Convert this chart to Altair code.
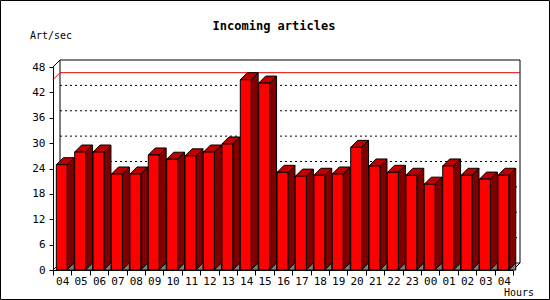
import altair as alt
import pandas as pd

hours = ["04", "05", "06", "07", "08", "09", "10", "11", "12", "13", "14", "15",
         "16", "17", "18", "19", "20", "21", "22", "23", "00", "01", "02", "03", "04"]
values = [24.9, 27.9, 27.9, 22.7, 22.7, 27.2, 26.2, 27.0, 27.9, 29.8, 45.0, 44.2,
          23.1, 22.2, 22.4, 22.7, 29.0, 24.6, 23.1, 22.4, 20.3, 24.6, 22.4, 21.5, 22.4]
y_ticks = [0, 6, 12, 18, 24, 30, 36, 42, 48]
title_text = "Incoming articles"
y_title = "Art/sec"
x_title = "Hours"

# layout / style
W, H = 460, 203
N = len(hours)
YMAX = 48
DEPTH = 7
DX = DEPTH * N / W
DY = DEPTH * YMAX / H
L_OFF, R_OFF = 0.18, 0.77
FONT = "DejaVu Sans Mono"

xs = alt.Scale(domain=[0, N], nice=False, zero=False)
ys = alt.Scale(domain=[0, YMAX], nice=False, zero=False)

label_arr = "[" + ",".join("'%s'" % h for h in hours) + ",'']"
x_axis = alt.Axis(values=list(range(N + 1)), labelExpr=label_arr + "[datum.value]",
                  labelOffset=W / N / 2, tickSize=5, labelPadding=0, grid=False,
                  title=None, domainColor="black", tickColor="black", labelColor="black",
                  labelFont=FONT, labelFontSize=11, labelOverlap=False, labelFlush=False)
y_axis = alt.Axis(values=y_ticks, tickSize=4, labelPadding=4, grid=False, title=None,
                  domainColor="black", tickColor="black", labelColor="black",
                  labelFont=FONT, labelFontSize=11, labelFlush=False)


def X(f):
    return alt.X(f, type="quantitative", scale=xs, axis=x_axis)


def Y(f):
    return alt.Y(f, type="quantitative", scale=ys, axis=y_axis)


# back wall
wall = alt.Chart(pd.DataFrame({"x0": [DX], "x1": [N + DX], "y0": [DY], "y1": [YMAX + DY]})).mark_rect(
    fill="white", stroke="black", strokeWidth=1
).encode(x=X("x0"), x2="x1", y=Y("y0"), y2="y1")

# gridlines on back wall
grid_df = pd.DataFrame({"y": [t + DY for t in y_ticks[1:-1]], "x0": DX, "x1": N + DX})
grid = alt.Chart(grid_df).mark_rule(color="black", strokeDash=[2, 3], strokeWidth=1).encode(
    x=X("x0"), x2="x1", y=Y("y"))

# frame diagonals
diag_df = pd.DataFrame({"x0": [0, N, 0], "y0": [YMAX, 0, 0],
                        "x1": [DX, N + DX, DX], "y1": [YMAX + DY, DY, DY]})
diag = alt.Chart(diag_df).mark_rule(color="black", strokeWidth=1).encode(
    x=X("x0"), y=Y("y0"), x2="x1", y2="y1")

# max line
vmax = max(values)
max_df = pd.DataFrame({"x0": [0, DX], "y0": [vmax, vmax + DY],
                       "x1": [DX, N + DX], "y1": [vmax + DY, vmax + DY]})
maxline = alt.Chart(max_df).mark_rule(color="#e00000", strokeWidth=1).encode(
    x=X("x0"), y=Y("y0"), x2="x1", y2="y1")

# bars
rows_front, rows_top, rows_side, rows_shadow = [], [], [], []
for i, v in enumerate(values):
    l, r = i + L_OFF, i + R_OFF
    rows_front.append({"id": i, "l": l, "r": r, "v": v})
    rows_top.append({"id": i, "y": v, "xa": l, "xb": r})
    rows_top.append({"id": i, "y": v + DY, "xa": l + DX, "xb": r + DX})
    rows_side.append({"id": i, "x": r, "ya": v, "yb": 0})
    rows_side.append({"id": i, "x": r + DX, "ya": v + DY, "yb": DY})
    rows_shadow.append({"id": i, "x": r, "ya": 0, "yb": 0})
    rows_shadow.append({"id": i, "x": r + DX, "ya": DY, "yb": 0})

side = alt.Chart(pd.DataFrame(rows_side)).mark_area(
    color="#800000", stroke="black", strokeWidth=1, opacity=1
).encode(x=X("x"), y=Y("ya"), y2="yb", detail="id:N")

shadow = alt.Chart(pd.DataFrame(rows_shadow)).mark_area(
    color="#808080", stroke="black", strokeWidth=1, opacity=1
).encode(x=X("x"), y=Y("ya"), y2="yb", detail="id:N")

top = alt.Chart(pd.DataFrame(rows_top)).mark_area(
    orient="horizontal", color="#c00000", stroke="black", strokeWidth=1, opacity=1
).encode(y=Y("y"), x=X("xa"), x2="xb", detail="id:N")

front = alt.Chart(pd.DataFrame(rows_front)).mark_rect(
    fill="#ff0000", stroke="black", strokeWidth=1
).encode(x=X("l"), x2="r", y=Y("v"), y2=alt.datum(0))

one = pd.DataFrame({"a": [0]})
t_title = alt.Chart(one).mark_text(
    text=title_text, font=FONT, fontSize=12, fontWeight="bold", color="black",
    align="center", baseline="alphabetic"
).encode(x=alt.value(221), y=alt.value(-37))
t_y = alt.Chart(one).mark_text(
    text=y_title, font=FONT, fontSize=10, color="black", align="left", baseline="alphabetic"
).encode(x=alt.value(-23), y=alt.value(-28))
t_x = alt.Chart(one).mark_text(
    text=x_title, font=FONT, fontSize=10, color="black", align="left", baseline="alphabetic"
).encode(x=alt.value(451), y=alt.value(28 + H - 2))
border = alt.Chart(one).mark_rect(fill=None, stroke="black", strokeWidth=1).encode(
    x=alt.value(-52.5), y=alt.value(-66.5), x2=alt.value(496.5), y2=alt.value(232.5))

chart = alt.layer(
    wall, grid, diag, maxline, side, top, shadow, front, t_title, t_y, t_x, border
).properties(
    width=W, height=H,
    autosize=alt.AutoSizeParams(type="none"),
    padding={"left": 53, "top": 67, "right": 37, "bottom": 30},
    background="white",
).configure_view(stroke=None)

chart.save("out.html", embed_options={"renderer": "svg", "actions": False})
